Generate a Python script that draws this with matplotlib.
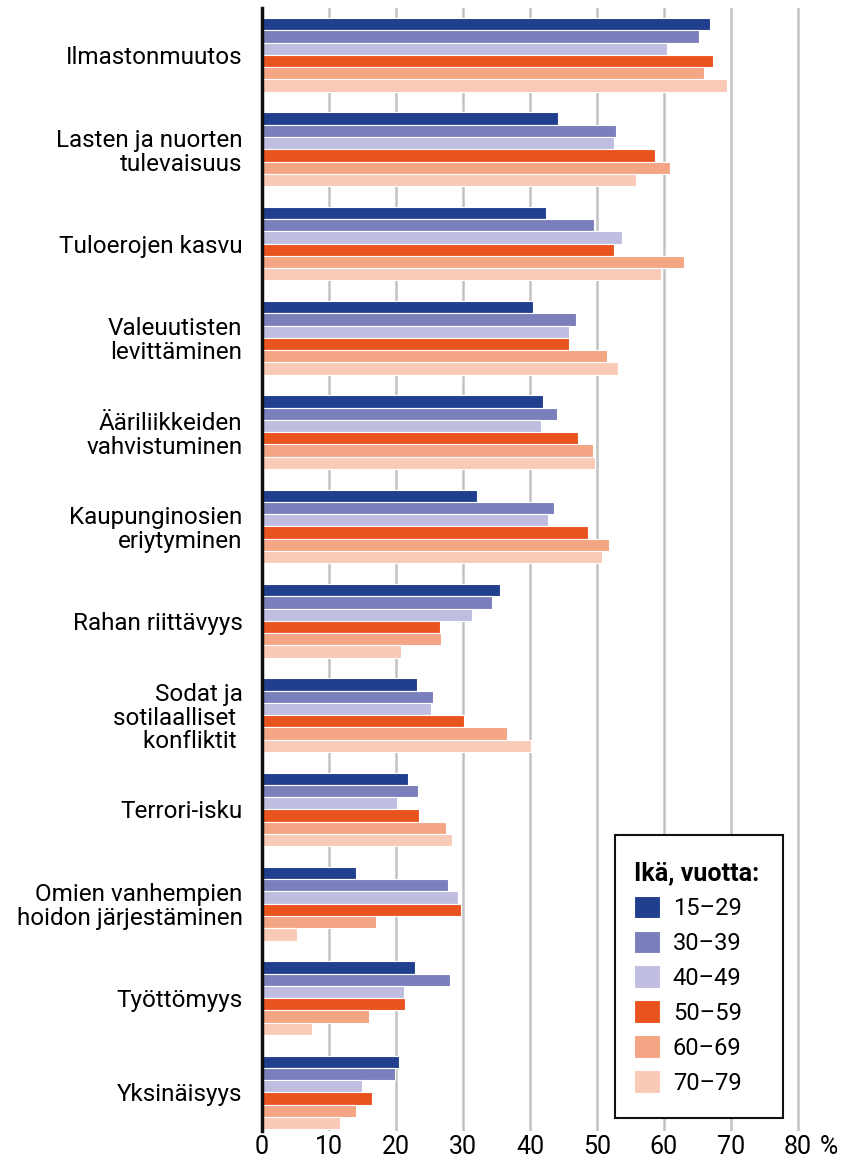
import numpy as np
import matplotlib
matplotlib.use("Agg")
import matplotlib.pyplot as plt
from matplotlib.patches import Patch, Rectangle

plt.rcParams['font.family'] = ['Roboto', 'DejaVu Sans']

categories = [
    "Ilmastonmuutos",
    "Lasten ja nuorten\ntulevaisuus",
    "Tuloerojen kasvu",
    "Valeuutisten\nlevittäminen",
    "Ääriliikkeiden\nvahvistuminen",
    "Kaupunginosien\neriytyminen",
    "Rahan riittävyys",
    "Sodat ja\nsotilaalliset \nkonfliktit ",
    "Terrori-isku",
    "Omien vanhempien\nhoidon järjestäminen",
    "Työttömyys",
    "Yksinäisyys",
]

age_groups = ["15–29", "30–39", "40–49", "50–59", "60–69", "70–79"]

v15_29 = [66.9, 44.2, 42.4, 40.5, 42.0, 32.1, 35.5, 23.1, 21.8, 14.0, 22.8, 20.5]
v30_39 = [65.3, 52.9, 49.6, 46.8, 44.0, 43.6, 34.3, 25.6, 23.3, 27.7, 28.1, 19.9]
v40_49 = [60.4, 52.5, 53.7, 45.8, 41.7, 42.7, 31.4, 25.3, 20.2, 29.2, 21.2, 14.9]
v50_59 = [67.3, 58.7, 52.6, 45.9, 47.2, 48.7, 26.6, 30.2, 23.4, 29.7, 21.3, 16.4]
v60_69 = [66.0, 60.9, 63.0, 51.5, 49.4, 51.8, 26.7, 36.5, 27.5, 17.0, 15.9, 14.0]
v70_79 = [69.4, 55.9, 59.5, 53.1, 49.7, 50.7, 20.8, 40.2, 28.3, 5.2, 7.5, 11.6]

series = [v15_29, v30_39, v40_49, v50_59, v60_69, v70_79]
colors = ["#213f8f", "#7b7fbb", "#bfbee0", "#e9531e", "#f4a684", "#f9cbb7"]

xticks = [0, 10, 20, 30, 40, 50, 60, 70, 80]
xticklabels = ["0", "10", "20", "30", "40", "50", "60", "70", "80"]

fig = plt.figure(figsize=(8.48, 11.66), dpi=100)
ax = fig.add_axes([262 / 848, 1 - 1131 / 1166, 556 / 848, 1123 / 1166])

y = np.arange(len(categories))
h = 0.13
for j, (vals, c) in enumerate(zip(series, colors)):
    ax.barh(y + (j - 2.5) * h, vals, height=h, color=c,
            edgecolor="white", linewidth=0.8, label=age_groups[j], zorder=3)

ax.set_xlim(0, 83)
ax.set_ylim(11.41, -0.498)

ax.set_xticks(xticks)
ax.set_xticklabels(xticklabels, fontsize=18)
ax.tick_params(axis="x", length=0, pad=3)
ax.xaxis.grid(True, color="#c2c2c2", linewidth=1.8)
ax.set_axisbelow(True)
# percent sign after the last tick label
ax.annotate("%", xy=(80, 0), xycoords=("data", "axes fraction"),
            xytext=(16, -3), textcoords="offset points",
            ha="left", va="top", fontsize=18)

ax.set_yticks(y)
ax.set_yticklabels(categories, fontsize=17.5, linespacing=1.05)
ax.tick_params(axis="y", length=0, pad=14)

for s in ["top", "right", "bottom"]:
    ax.spines[s].set_visible(False)
ax.spines["left"].set_linewidth(2.5)
ax.spines["left"].set_color("#111111")
ax.spines["left"].set_zorder(5)

handles = [Patch(facecolor=c, edgecolor="white", linewidth=0.8) for c in colors]
leg = fig.legend(handles, age_groups, loc="upper left",
                 bbox_to_anchor=(615 / 848, 1 - 842 / 1166),
                 title="Ikä, vuotta:", alignment="left",
                 title_fontproperties={"weight": "bold", "size": 18},
                 fontsize=17, frameon=False,
                 handlelength=1.1, handleheight=1.1, handletextpad=0.55,
                 labelspacing=0.45, borderpad=0.8, borderaxespad=0)

# legend frame
fig.patches.append(Rectangle((615 / 848, 1 - 1118 / 1166), 168 / 848, 283 / 1166,
                             transform=fig.transFigure, fill=True,
                             facecolor="white", edgecolor="#111111",
                             linewidth=1.5, zorder=4))

fig.savefig("out.png", dpi=100)
